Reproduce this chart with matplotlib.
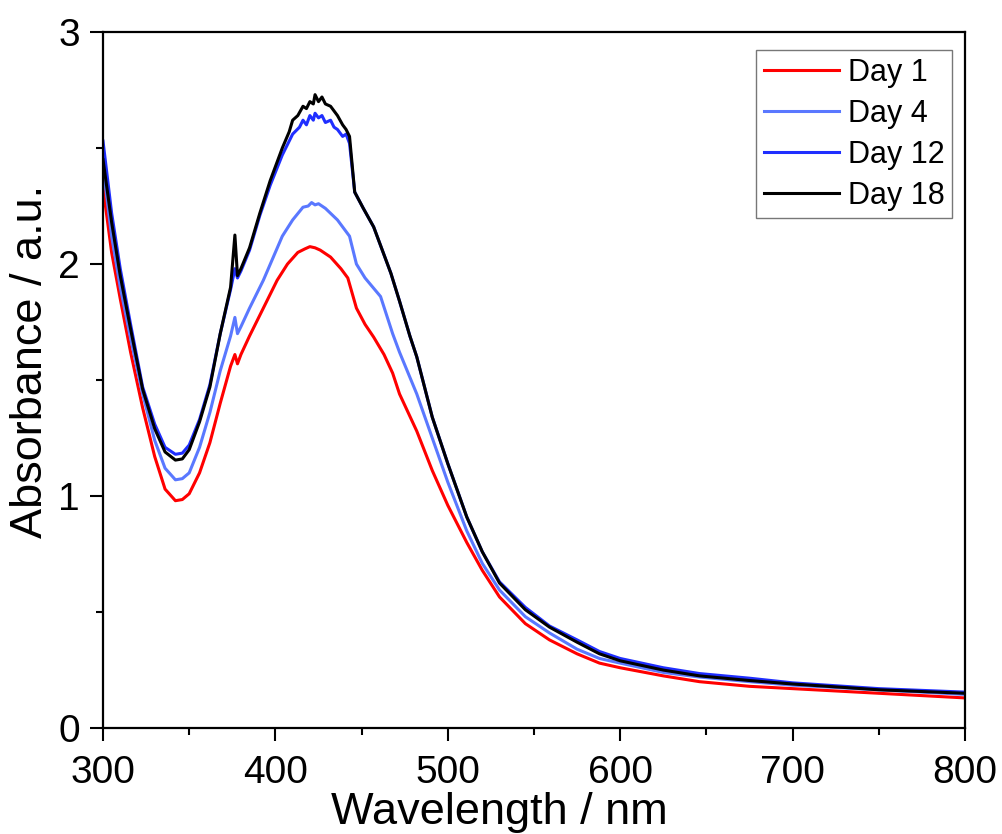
# -*- coding: utf-8 -*-
# UV-vis absorbance spectra, Day 1 .. Day 18
import numpy as np
from matplotlib import pyplot as plt
from matplotlib.ticker import MultipleLocator

labels = ["Day 1", "Day 4", "Day 12", "Day 18"]
colors = ["#ff0000", "#5a78ff", "#1f2eff", "#000000"]

# Day 1
wl_d1 = [300, 305, 310, 316, 323, 330, 336, 342, 346, 350, 356, 362, 368, 374, 376.5, 378,
         380, 385, 393, 401, 407, 413, 417, 420, 423, 426, 432, 438, 442, 447, 452, 457,
         463, 468, 472, 482, 491, 500, 511, 520, 530, 545, 559, 575, 588, 600, 625, 646,
         675, 700, 750, 800]
ab_d1 = [2.33, 2.05, 1.85, 1.62, 1.38, 1.17, 1.03, 0.98, 0.985, 1.01, 1.10, 1.23, 1.40, 1.56, 1.61, 1.57,
         1.61, 1.69, 1.81, 1.93, 2.00, 2.05, 2.065, 2.075, 2.07, 2.06, 2.03, 1.98, 1.94, 1.81, 1.74, 1.685,
         1.61, 1.53, 1.44, 1.28, 1.11, 0.96, 0.80, 0.68, 0.565, 0.45, 0.38, 0.32, 0.28, 0.26, 0.225, 0.20,
         0.18, 0.17, 0.15, 0.13]

# Day 4
wl_d4 = [300, 305, 310, 316, 323, 330, 336, 342, 346, 350, 356, 362, 368, 374, 376.5, 378,
         380, 385, 393, 404, 410, 416, 419, 421, 423, 425, 429, 436, 443, 447, 452, 461,
         468, 472, 482, 491, 500, 511, 520, 530, 545, 559, 575, 588, 600, 625, 646,
         675, 700, 750, 800]
ab_d4 = [2.42, 2.12, 1.90, 1.68, 1.44, 1.24, 1.12, 1.07, 1.075, 1.10, 1.21, 1.36, 1.54, 1.69, 1.77, 1.70,
         1.73, 1.81, 1.93, 2.12, 2.19, 2.245, 2.25, 2.265, 2.255, 2.26, 2.24, 2.19, 2.12, 2.00, 1.94, 1.86,
         1.70, 1.62, 1.44, 1.25, 1.06, 0.85, 0.71, 0.595, 0.48, 0.41, 0.34, 0.30, 0.28, 0.24, 0.22,
         0.20, 0.185, 0.165, 0.145]

# Day 12
wl_d12 = [300, 305, 310, 316, 323, 330, 336, 342, 346, 350, 356, 362, 368, 374, 376.5, 378,
          380, 385, 391, 397, 404, 410, 414, 416, 418, 420, 422, 423, 425, 427, 429, 432,
          434, 436, 439, 441, 443, 446, 451, 457, 462, 467, 472, 478, 482, 491, 500, 511,
          520, 530, 545, 559, 575, 588, 600, 625, 646, 675, 700, 750, 800]
ab_d12 = [2.53, 2.22, 1.98, 1.74, 1.47, 1.31, 1.21, 1.18, 1.185, 1.22, 1.33, 1.48, 1.70, 1.89, 1.98, 1.94,
          1.97, 2.06, 2.21, 2.34, 2.47, 2.56, 2.59, 2.62, 2.60, 2.64, 2.62, 2.65, 2.63, 2.64, 2.61, 2.62,
          2.59, 2.58, 2.55, 2.56, 2.52, 2.31, 2.24, 2.16, 2.06, 1.96, 1.84, 1.69, 1.60, 1.34, 1.14, 0.91,
          0.76, 0.63, 0.52, 0.44, 0.38, 0.33, 0.30, 0.26, 0.235, 0.215, 0.195, 0.17, 0.155]

# Day 18
wl_d18 = [300, 305, 310, 316, 323, 330, 336, 342, 346, 350, 356, 362, 368, 374, 376.5, 378,
          380, 385, 391, 397, 404, 408, 410, 413, 416, 418, 420, 422, 423, 425, 427, 429,
          432, 434, 436, 439, 441, 443, 446, 451, 457, 462, 467, 472, 478, 482, 491, 500,
          511, 520, 530, 545, 559, 575, 588, 600, 625, 646, 675, 700, 750, 800]
ab_d18 = [2.45, 2.18, 1.95, 1.72, 1.46, 1.29, 1.19, 1.155, 1.16, 1.20, 1.32, 1.47, 1.70, 1.90, 2.125, 1.95,
          1.98, 2.07, 2.22, 2.36, 2.50, 2.57, 2.62, 2.64, 2.68, 2.67, 2.70, 2.69, 2.73, 2.70, 2.72, 2.69,
          2.68, 2.66, 2.64, 2.60, 2.58, 2.55, 2.31, 2.24, 2.16, 2.06, 1.96, 1.84, 1.69, 1.60, 1.34, 1.14,
          0.91, 0.76, 0.625, 0.51, 0.435, 0.37, 0.32, 0.29, 0.25, 0.225, 0.205, 0.19, 0.165, 0.15]

series = [(wl_d1, ab_d1), (wl_d4, ab_d4), (wl_d12, ab_d12), (wl_d18, ab_d18)]

plt.rcParams['font.family'] = ['Liberation Sans', 'DejaVu Sans']
fig = plt.figure(figsize=(10.03, 8.34), dpi=100)
ax = fig.add_axes([0.1027, 0.127, 0.8594, 0.8346])

for (x, y), lab, c in zip(series, labels, colors):
    ax.plot(x, y, color=c, lw=2.2, label=lab)

ax.set_xlim(300, 800)
ax.set_ylim(0, 3)
ax.xaxis.set_major_locator(MultipleLocator(100))
ax.xaxis.set_minor_locator(MultipleLocator(50))
ax.yaxis.set_major_locator(MultipleLocator(1))
ax.yaxis.set_minor_locator(MultipleLocator(0.5))
ax.tick_params(which='both', direction='out', width=1.5, labelsize=28,
               top=False, right=False)
ax.tick_params(which='major', length=9.5)
ax.tick_params(which='minor', length=5)
ax.tick_params(axis='x', pad=10)
ax.tick_params(axis='y', pad=7)
for s in ax.spines.values():
    s.set_linewidth(1.6)

ax.set_xlabel("Wavelength / nm", fontsize=32.5)
ax.set_ylabel("Absorbance / a.u.", fontsize=32.5)
ax.xaxis.set_label_coords(0.46, -0.092)
ax.yaxis.set_label_coords(-0.060, 0.527)

leg = ax.legend(loc='upper right', bbox_to_anchor=(0.985, 0.974), borderaxespad=0,
                fontsize=22, frameon=True, fancybox=False, handlelength=2.45,
                handletextpad=0.3, labelspacing=0.36, borderpad=0.25)
leg.get_frame().set_edgecolor('#555555')
leg.get_frame().set_linewidth(1.0)

plt.savefig("out.png", dpi=100)
plt.close("all")
